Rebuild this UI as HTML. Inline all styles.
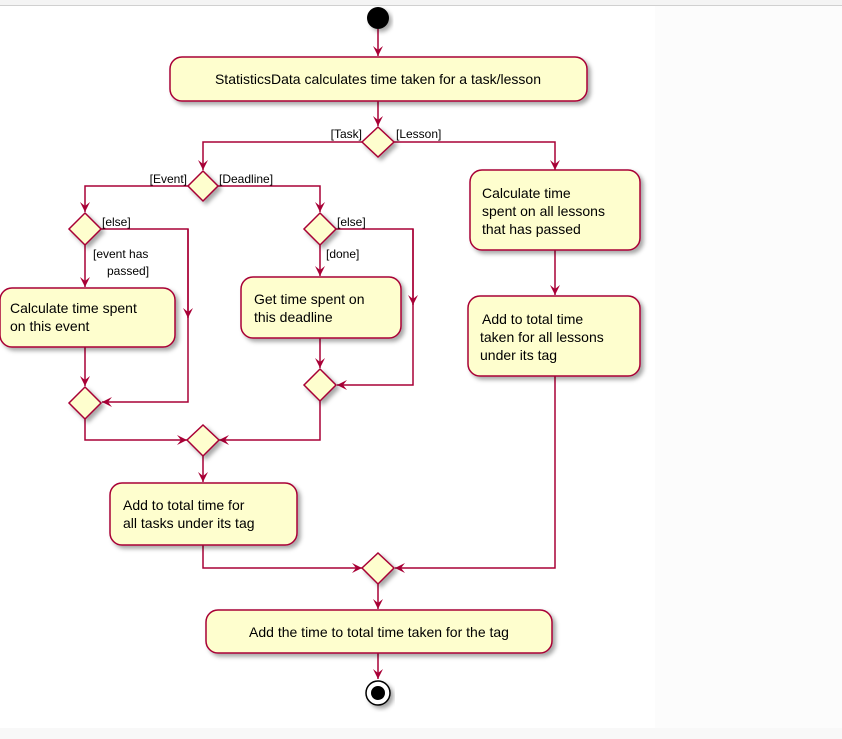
<!DOCTYPE html>
<html><head><meta charset="utf-8"><style>
html,body{margin:0;padding:0;background:#fff;}
svg{display:block;font-family:"Liberation Sans",sans-serif;}
</style></head><body>
<svg width="842" height="739" viewBox="0 0 842 739" xmlns="http://www.w3.org/2000/svg">
<defs>
<filter id="sh" x="-10%" y="-10%" width="130%" height="140%"><feDropShadow dx="3" dy="3" stdDeviation="2" flood-color="#000" flood-opacity="0.35"/></filter>
<marker id="ar" viewBox="0 0 10 10" refX="10" refY="5" markerWidth="10" markerHeight="10" orient="auto" markerUnits="userSpaceOnUse"><path d="M0,0 L10,5 L0,10 L4,5 Z" fill="#a80036"/></marker>
</defs>
<rect x="0" y="0" width="842" height="5" fill="#f4f4f4"/>
<line x1="0" y1="5.5" x2="842" y2="5.5" stroke="#d0d0d0"/>
<rect x="655" y="6" width="187" height="733" fill="#fcfcfc"/>
<rect x="0" y="728" width="842" height="11" fill="#f8f8f8"/>
<g fill="none" stroke="#a80036" stroke-width="1.5">
<line x1="378" y1="29" x2="378" y2="56" marker-end="url(#ar)"/>
<line x1="378" y1="101" x2="378" y2="126" marker-end="url(#ar)"/>
<polyline points="363,142 203,142 203,170" marker-end="url(#ar)"/>
<polyline points="394,142 555,142 555,170" marker-end="url(#ar)"/>
<polyline points="189,186 85,186 85,212" marker-end="url(#ar)"/>
<polyline points="218,186 320,186 320,212" marker-end="url(#ar)"/>
<polyline points="101,229 188,229 188,402 102,402" marker-end="url(#ar)"/>
<line x1="188" y1="229" x2="188" y2="318" marker-end="url(#ar)"/>
<line x1="85" y1="245" x2="85" y2="287" marker-end="url(#ar)"/>
<line x1="85" y1="347" x2="85" y2="386" marker-end="url(#ar)"/>
<polyline points="336,229 413,229 413,385 337,385" marker-end="url(#ar)"/>
<line x1="413" y1="229" x2="413" y2="305" marker-end="url(#ar)"/>
<line x1="320" y1="245" x2="320" y2="276" marker-end="url(#ar)"/>
<line x1="320" y1="338" x2="320" y2="368" marker-end="url(#ar)"/>
<polyline points="85,419 85,440 187,440" marker-end="url(#ar)"/>
<polyline points="320,401 320,440 219,440" marker-end="url(#ar)"/>
<line x1="203" y1="456" x2="203" y2="482" marker-end="url(#ar)"/>
<line x1="555" y1="250" x2="555" y2="295" marker-end="url(#ar)"/>
<polyline points="203,545 203,568 362,568" marker-end="url(#ar)"/>
<polyline points="555,376 555,568 395,568" marker-end="url(#ar)"/>
<line x1="378" y1="584" x2="378" y2="609" marker-end="url(#ar)"/>
<line x1="378" y1="653" x2="378" y2="679" marker-end="url(#ar)"/>
</g>
<circle cx="378" cy="18" r="11" fill="#000" filter="url(#sh)"/>
<g fill="#fefece" stroke="#a80036" stroke-width="1.5" filter="url(#sh)">
<rect x="170" y="57" width="417" height="44" rx="12"/>
<rect x="470" y="170" width="170" height="80" rx="12"/>
<rect x="468" y="296" width="172" height="80" rx="12"/>
<rect x="0" y="288" width="175" height="59" rx="12"/>
<rect x="241" y="277" width="160" height="61" rx="12"/>
<rect x="110" y="483" width="187" height="62" rx="12"/>
<rect x="206" y="610" width="346" height="43" rx="12"/>
<polygon points="378,127 394,142 378,157 362,142"/>
<polygon points="203,171 218,186 203,201 188,186"/>
<polygon points="85,213 101,229 85,245 69,229"/>
<polygon points="320,213 336,229 320,245 304,229"/>
<polygon points="85,387 101,403 85,419 69,403"/>
<polygon points="320,369 336,385 320,401 304,385"/>
<polygon points="203,425 219,440 203,456 187,440"/>
<polygon points="378,553 394,568 378,584 362,568"/>
</g>
<circle cx="378" cy="693" r="12" fill="#fff" stroke="#000" stroke-width="1.5" filter="url(#sh)"/>
<circle cx="378" cy="693" r="7" fill="#000"/>
<g font-size="14" fill="#000">
<text x="378" y="84" text-anchor="middle">StatisticsData calculates time taken for a task/lesson</text>
<text x="482" y="198">Calculate time</text>
<text x="482" y="216">spent on all lessons</text>
<text x="482" y="234">that has passed</text>
<text x="482" y="324"> Add to total time</text>
<text x="480" y="342">taken for all lessons</text>
<text x="480" y="360">under its tag</text>
<text x="10" y="313">Calculate time spent</text>
<text x="10" y="331">on this event</text>
<text x="254" y="304">Get time spent on</text>
<text x="254" y="322">this deadline</text>
<text x="123" y="510">Add to total time for</text>
<text x="123" y="528">all tasks under its tag</text>
<text x="379" y="637" text-anchor="middle">Add the time to total time taken for the tag</text>
</g>
<g font-size="12" fill="#000">
<text x="362" y="138" text-anchor="end">[Task]</text>
<text x="396" y="138">[Lesson]</text>
<text x="187" y="183" text-anchor="end">[Event]</text>
<text x="219" y="183">[Deadline]</text>
<text x="102" y="226">[else]</text>
<text x="337" y="226">[else]</text>
<text x="93" y="258">[event has</text>
<text x="107" y="275">passed]</text>
<text x="326" y="258">[done]</text>
</g>
</svg>
</body></html>
